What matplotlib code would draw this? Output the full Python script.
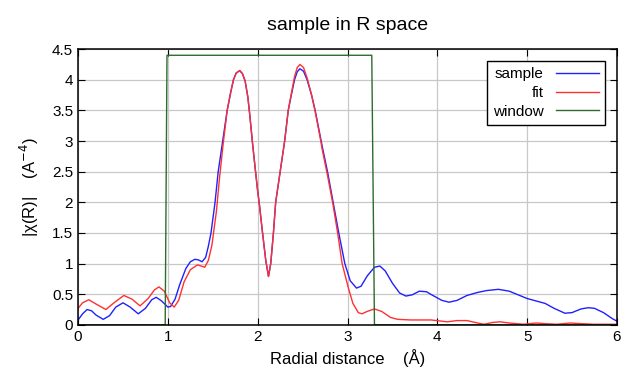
import matplotlib
matplotlib.use('Agg')
import matplotlib.pyplot as plt

plt.rcParams['font.family'] = ['Liberation Sans', 'DejaVu Sans']

# sample |chi(R)|
r_sample = [0.00, 0.05, 0.10, 0.15, 0.20, 0.28, 0.35, 0.42, 0.50, 0.58, 0.67, 0.75,
            0.82, 0.87, 0.93, 1.00, 1.03, 1.08, 1.13, 1.20, 1.25, 1.30, 1.34, 1.38,
            1.42, 1.45, 1.48, 1.525, 1.56, 1.61, 1.66, 1.70, 1.73, 1.76, 1.80, 1.83,
            1.86, 1.89, 1.91, 1.94, 1.97, 2.00, 2.02, 2.05, 2.09, 2.12, 2.145, 2.175,
            2.20, 2.25, 2.30, 2.34, 2.37, 2.41, 2.44, 2.47, 2.51, 2.55, 2.60,
            2.64, 2.70, 2.72, 2.78, 2.84, 2.90, 2.97, 3.03, 3.10, 3.15,
            3.22, 3.30, 3.36, 3.42, 3.50, 3.58, 3.65, 3.72, 3.80, 3.88, 3.95, 4.05,
            4.13, 4.22, 4.33, 4.45, 4.55, 4.68, 4.80, 4.90, 5.00, 5.10, 5.20, 5.30,
            5.42, 5.50, 5.60, 5.68, 5.75, 5.85, 5.95, 6.00]
chi_sample = [0.08, 0.18, 0.25, 0.23, 0.16, 0.09, 0.15, 0.29, 0.36, 0.29, 0.18, 0.27,
              0.41, 0.45, 0.39, 0.29, 0.30, 0.42, 0.65, 0.92, 1.03, 1.07, 1.06, 1.03,
              1.10, 1.28, 1.50, 2.00, 2.50, 3.00, 3.50, 3.80, 4.00, 4.11, 4.15, 4.10,
              3.98, 3.72, 3.45, 3.00, 2.58, 2.18, 1.95, 1.55, 1.05, 0.79, 1.00, 1.50,
              2.00, 2.50, 3.00, 3.50, 3.72, 4.00, 4.13, 4.18, 4.14, 4.00, 3.75,
              3.50, 3.05, 2.90, 2.48, 2.00, 1.52, 1.00, 0.72, 0.60, 0.63,
              0.80, 0.94, 0.96, 0.88, 0.68, 0.52, 0.47, 0.49, 0.55, 0.54, 0.48, 0.40,
              0.37, 0.40, 0.48, 0.53, 0.56, 0.58, 0.55, 0.49, 0.43, 0.39, 0.35, 0.27,
              0.19, 0.20, 0.26, 0.28, 0.27, 0.20, 0.10, 0.06]

# fit |chi(R)|
r_fit = [0.00, 0.05, 0.12, 0.20, 0.31, 0.40, 0.51, 0.60, 0.69, 0.78, 0.85, 0.90,
         0.96, 1.02, 1.07, 1.12, 1.18, 1.25, 1.33, 1.37, 1.41, 1.45, 1.49, 1.54,
         1.575, 1.615, 1.66, 1.70, 1.73, 1.76, 1.80, 1.83, 1.86, 1.89, 1.91,
         1.94, 1.97, 2.00, 2.02, 2.05, 2.09, 2.12, 2.145, 2.175, 2.20, 2.25,
         2.30, 2.34, 2.37, 2.41, 2.44, 2.47, 2.51, 2.55, 2.60, 2.64, 2.70, 2.72,
         2.78, 2.84, 2.89, 2.94, 3.01, 3.06, 3.12, 3.16, 3.22, 3.30, 3.38,
         3.48, 3.56, 3.70, 3.93, 4.11, 4.22, 4.33, 4.45, 4.52, 4.62, 4.70, 4.80,
         4.96, 5.10, 5.20, 5.33, 5.48, 5.60, 5.74, 6.00]
chi_fit = [0.27, 0.36, 0.41, 0.34, 0.25, 0.36, 0.48, 0.42, 0.31, 0.43, 0.57, 0.62,
           0.55, 0.36, 0.29, 0.40, 0.70, 0.90, 0.98, 0.96, 0.94, 1.05, 1.30, 1.85,
           2.40, 2.95, 3.50, 3.80, 4.00, 4.11, 4.15, 4.10, 3.98, 3.72, 3.45,
           3.00, 2.58, 2.18, 1.95, 1.55, 1.05, 0.79, 1.00, 1.50, 2.00, 2.50,
           3.00, 3.50, 3.74, 4.05, 4.20, 4.25, 4.20, 4.03, 3.75, 3.48, 3.02, 2.85,
           2.42, 1.95, 1.50, 1.00, 0.60, 0.35, 0.20, 0.18, 0.22, 0.26, 0.22,
           0.12, 0.09, 0.08, 0.08, 0.05, 0.07, 0.07, 0.03, 0.01, 0.04, 0.05, 0.03,
           0.01, 0.03, 0.02, 0.01, 0.03, 0.02, 0.01, 0.01]

# FT window
r_window = [0.0, 0.97, 0.99, 3.27, 3.30, 6.0]
w_window = [0.0, 0.0, 4.4, 4.4, 0.0, 0.0]

fig = plt.figure(figsize=(6.4, 3.84), dpi=100)
ax = fig.add_axes([0.122, 0.154, 0.842, 0.718])

ax.plot(r_sample, chi_sample, color='#2020ff', lw=1.0, label='sample')
ax.plot(r_fit, chi_fit, color='#ff3030', lw=1.0, label='fit')
ax.plot(r_window, w_window, color='#2e6b2e', lw=1.0, label='window')

ax.set_xlim(0, 6)
ax.set_ylim(0, 4.5)
ax.set_xticks([0, 1, 2, 3, 4, 5, 6])
ax.set_yticks([0, 0.5, 1, 1.5, 2, 2.5, 3, 3.5, 4, 4.5])
ax.set_yticklabels(['0', '0.5', '1', '1.5', '2', '2.5', '3', '3.5', '4', '4.5'])
ax.grid(True, color='#c8c8c8', lw=0.9)
ax.tick_params(direction='in', top=True, right=True, length=5, labelsize=11)
for s in ax.spines.values():
    s.set_linewidth(1.1)

ax.set_title('sample in R space', fontsize=14, pad=14)
ax.set_xlabel('Radial distance    (\u00c5)', fontsize=12)
ax.set_ylabel('|\u03c7(R)|    (A$^{-4}$)', fontsize=12, labelpad=8)

leg = ax.legend(loc='upper right', markerfirst=False, fancybox=False,
                edgecolor='black', framealpha=1, fontsize=11,
                handlelength=2.8, borderaxespad=0.8, labelspacing=0.3)
leg.get_frame().set_linewidth(1.0)
for t in leg.get_texts():
    t.set_ha('right')

fig.savefig('out.png', dpi=100)
